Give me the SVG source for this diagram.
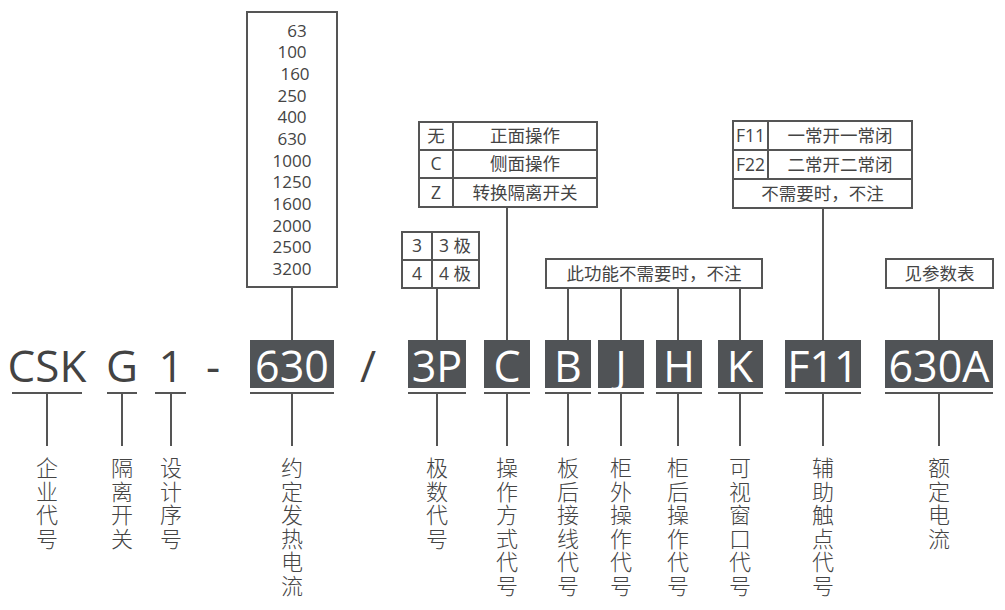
<svg xmlns="http://www.w3.org/2000/svg" width="1005" height="610" viewBox="0 0 1005 610">
<style>
.code{font-family:"Open Sans","Liberation Sans",sans-serif;font-size:44px;fill:#434343;text-anchor:middle}
.boxtxt{font-family:"Open Sans","Liberation Sans",sans-serif;font-size:43px;fill:#ffffff;text-anchor:middle}
.cbox{fill:#505356}
.ul{stroke:#555;stroke-width:2;fill:none}
.frame{fill:#fff;stroke:#555;stroke-width:2}
.grid{stroke:#555;stroke-width:2;fill:none}
.t{font-family:"Open Sans","Noto Sans CJK SC",sans-serif;font-size:17.5px;fill:#444;text-anchor:middle}
.num{font-family:"Open Sans","Liberation Sans",sans-serif;font-size:17px;fill:#444;text-anchor:middle}
.lbl{font-family:"Noto Sans CJK SC",sans-serif;font-size:22px;fill:#444;font-weight:300;writing-mode:vertical-rl;text-orientation:upright;letter-spacing:1.5px;text-anchor:start}
.conn{stroke:#555;stroke-width:2;fill:none}
</style>

<g id="connectors">
  <line class="conn" x1="47" y1="393" x2="47" y2="446"/>
  <line class="conn" x1="122" y1="393" x2="122" y2="446"/>
  <line class="conn" x1="171" y1="393" x2="171" y2="446"/>
  <line class="conn" x1="292" y1="287" x2="292" y2="340"/>
  <line class="conn" x1="292" y1="393" x2="292" y2="446"/>
  <line class="conn" x1="437" y1="288" x2="437" y2="340"/>
  <line class="conn" x1="437" y1="393" x2="437" y2="446"/>
  <line class="conn" x1="507" y1="207" x2="507" y2="340"/>
  <line class="conn" x1="507" y1="393" x2="507" y2="446"/>
  <line class="conn" x1="568" y1="288" x2="568" y2="340"/>
  <line class="conn" x1="568" y1="393" x2="568" y2="446"/>
  <line class="conn" x1="621" y1="288" x2="621" y2="340"/>
  <line class="conn" x1="621" y1="393" x2="621" y2="446"/>
  <line class="conn" x1="678" y1="288" x2="678" y2="340"/>
  <line class="conn" x1="678" y1="393" x2="678" y2="446"/>
  <line class="conn" x1="740" y1="288" x2="740" y2="340"/>
  <line class="conn" x1="740" y1="393" x2="740" y2="446"/>
  <line class="conn" x1="823" y1="208" x2="823" y2="340"/>
  <line class="conn" x1="823" y1="393" x2="823" y2="446"/>
  <line class="conn" x1="939" y1="288" x2="939" y2="340"/>
  <line class="conn" x1="939" y1="393" x2="939" y2="446"/>
</g>

<g id="code-csk">
  <text class="code" x="47" y="382">CSK</text>
  <line class="ul" x1="12" y1="393" x2="82" y2="393"/>
</g>
<g id="code-g">
  <text class="code" x="122" y="382">G</text>
  <line class="ul" x1="107" y1="393" x2="137" y2="393"/>
</g>
<g id="code-1">
  <text class="code" x="171" y="382">1</text>
  <line class="ul" x1="155" y1="393" x2="186" y2="393"/>
</g>
<g id="sep-dash"><text class="code" x="213" y="382">-</text></g>
<g id="code-630">
  <rect class="cbox" x="250" y="340" width="84" height="48"/>
  <text class="boxtxt" x="292" y="382">630</text>
  <line class="ul" x1="250" y1="393" x2="334" y2="393"/>
</g>
<g id="sep-slash"><text class="code" x="368" y="382">/</text></g>
<g id="code-3p">
  <rect class="cbox" x="408" y="340" width="58" height="48"/>
  <text class="boxtxt" x="437" y="382">3P</text>
  <line class="ul" x1="408" y1="393" x2="466" y2="393"/>
</g>
<g id="code-c">
  <rect class="cbox" x="484" y="340" width="46" height="48"/>
  <text class="boxtxt" x="507" y="382">C</text>
  <line class="ul" x1="484" y1="393" x2="530" y2="393"/>
</g>
<g id="code-b">
  <rect class="cbox" x="545" y="340" width="46" height="48"/>
  <text class="boxtxt" x="568" y="382">B</text>
  <line class="ul" x1="545" y1="393" x2="591" y2="393"/>
</g>
<g id="code-j">
  <rect class="cbox" x="598" y="340" width="46" height="48"/>
  <text class="boxtxt" x="621" y="382">J</text>
  <line class="ul" x1="598" y1="393" x2="644" y2="393"/>
</g>
<g id="code-h">
  <rect class="cbox" x="656" y="340" width="46" height="48"/>
  <text class="boxtxt" x="679" y="382">H</text>
  <line class="ul" x1="656" y1="393" x2="702" y2="393"/>
</g>
<g id="code-k">
  <rect class="cbox" x="718" y="340" width="45" height="48"/>
  <text class="boxtxt" x="740" y="382">K</text>
  <line class="ul" x1="718" y1="393" x2="763" y2="393"/>
</g>
<g id="code-f11">
  <rect class="cbox" x="785" y="340" width="76" height="48"/>
  <text class="boxtxt" x="823" y="382">F11</text>
  <line class="ul" x1="785" y1="393" x2="861" y2="393"/>
</g>
<g id="code-630a">
  <rect class="cbox" x="885" y="340" width="108" height="48"/>
  <text class="boxtxt" x="939" y="382">630A</text>
  <line class="ul" x1="885" y1="393" x2="993" y2="393"/>
</g>

<g id="opt-current">
  <rect class="frame" x="247" y="12" width="90" height="275"/>
  <text class="num" x="297" y="37">63</text>
  <text class="num" x="292" y="58">100</text>
  <text class="num" x="295" y="80">160</text>
  <text class="num" x="292" y="102">250</text>
  <text class="num" x="292" y="123">400</text>
  <text class="num" x="292" y="145">630</text>
  <text class="num" x="292" y="167">1000</text>
  <text class="num" x="292" y="188">1250</text>
  <text class="num" x="292" y="210">1600</text>
  <text class="num" x="292" y="232">2000</text>
  <text class="num" x="292" y="253">2500</text>
  <text class="num" x="292" y="275">3200</text>
</g>

<g id="opt-operation">
  <rect class="frame" x="419" y="122" width="178" height="85"/>
  <line class="grid" x1="419" y1="150" x2="597" y2="150"/>
  <line class="grid" x1="419" y1="178" x2="597" y2="178"/>
  <line class="grid" x1="453" y1="122" x2="453" y2="207"/>
  <text class="t" x="436" y="142">无</text>
  <text class="t" x="525" y="142">正面操作</text>
  <text class="t" x="436" y="170">C</text>
  <text class="t" x="525" y="170">侧面操作</text>
  <text class="t" x="436" y="199">Z</text>
  <text class="t" x="525" y="199">转换隔离开关</text>
</g>

<g id="opt-poles">
  <rect class="frame" x="402" y="232" width="77" height="56"/>
  <line class="grid" x1="402" y1="260" x2="479" y2="260"/>
  <line class="grid" x1="432" y1="232" x2="432" y2="288"/>
  <text class="t" x="417" y="252">3</text>
  <text class="t" x="455" y="252">3 极</text>
  <text class="t" x="417" y="280">4</text>
  <text class="t" x="455" y="280">4 极</text>
</g>

<g id="opt-notneeded">
  <rect class="frame" x="546" y="259" width="216" height="29"/>
  <text class="t" x="654" y="280">此功能不需要时，不注</text>
</g>

<g id="opt-aux">
  <rect class="frame" x="733" y="121" width="179" height="87"/>
  <line class="grid" x1="733" y1="150" x2="912" y2="150"/>
  <line class="grid" x1="733" y1="179" x2="912" y2="179"/>
  <line class="grid" x1="768" y1="121" x2="768" y2="179"/>
  <text class="t" x="750.5" y="142">F11</text>
  <text class="t" x="840" y="142">一常开一常闭</text>
  <text class="t" x="750.5" y="171">F22</text>
  <text class="t" x="840" y="171">二常开二常闭</text>
  <text class="t" x="822.5" y="200">不需要时，不注</text>
</g>

<g id="opt-rated">
  <rect class="frame" x="886" y="259" width="107" height="29"/>
  <text class="t" x="939.5" y="280">见参数表</text>
</g>

<g id="labels">
  <text class="lbl" x="47" y="457">企业代号</text>
  <text class="lbl" x="122" y="457">隔离开关</text>
  <text class="lbl" x="171" y="457">设计序号</text>
  <text class="lbl" x="292" y="457">约定发热电流</text>
  <text class="lbl" x="437" y="457">极数代号</text>
  <text class="lbl" x="507" y="457">操作方式代号</text>
  <text class="lbl" x="568" y="457">板后接线代号</text>
  <text class="lbl" x="621" y="457">柜外操作代号</text>
  <text class="lbl" x="678" y="457">柜后操作代号</text>
  <text class="lbl" x="740" y="457">可视窗口代号</text>
  <text class="lbl" x="823" y="457">辅助触点代号</text>
  <text class="lbl" x="939" y="457">额定电流</text>
</g>
</svg>
